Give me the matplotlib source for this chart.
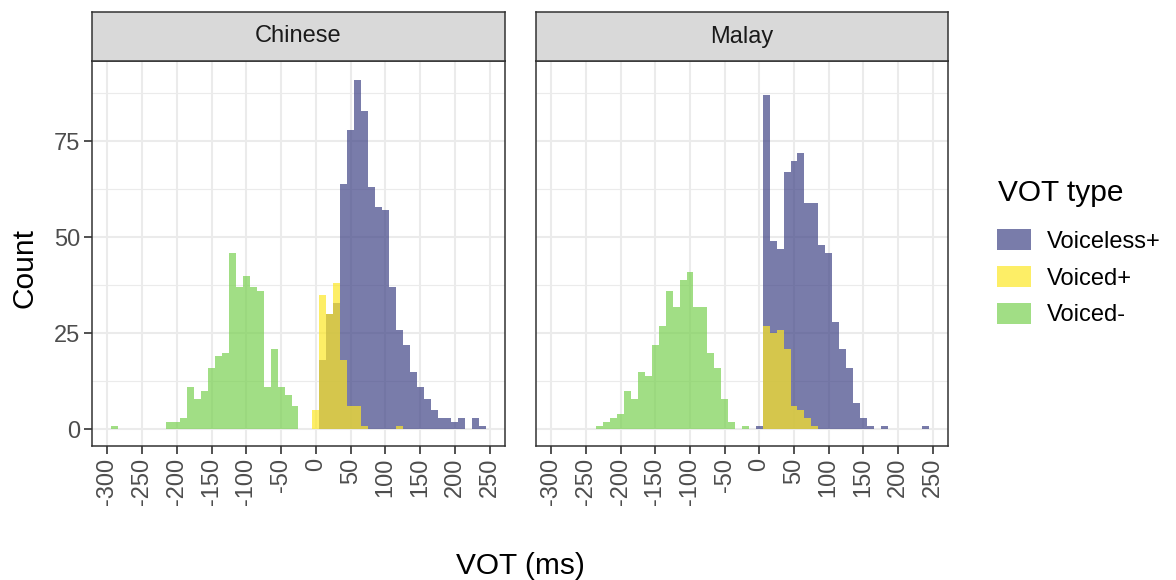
import matplotlib as mpl
import matplotlib.pyplot as plt
from matplotlib.patches import Patch

mpl.rcParams.update({
    "font.family": ["Liberation Sans", "DejaVu Sans"],
    "axes.linewidth": 1.1,
    "axes.edgecolor": "#333333",
})

# ---- data: histogram counts, bin centres in ms (binwidth 10) ----
chinese_voiceless_bins = [10, 20, 30, 40, 50, 60, 70, 80, 90, 100, 110, 120,
                          130, 140, 150, 160, 170, 180, 190, 200, 210, 220, 230, 240]
chinese_voiceless_counts = [18, 30, 33, 64, 78, 91, 83, 63, 58, 57, 37, 26,
                            22, 15, 11, 8, 5, 3, 3, 2, 3, 0, 3, 1]

chinese_voiced_bins = [0, 10, 20, 30, 40, 50, 60, 70, 120]
chinese_voiced_counts = [5, 35, 30, 38, 18, 6, 6, 1, 1]

chinese_prevoiced_bins = [-290, -210, -200, -190, -180, -170, -160, -150, -140, -130,
                          -120, -110, -100, -90, -80, -70, -60, -50, -40, -30]
chinese_prevoiced_counts = [1, 2, 2, 3, 11, 8, 10, 16, 19, 20,
                            46, 37, 40, 37, 36, 11, 21, 11, 9, 6]

malay_voiceless_bins = [0, 10, 20, 30, 40, 50, 60, 70, 80, 90, 100, 110,
                        120, 130, 140, 150, 160, 180, 240]
malay_voiceless_counts = [1, 87, 49, 47, 67, 70, 72, 59, 59, 48, 46, 28,
                          21, 16, 7, 3, 1, 1, 1]

malay_voiced_bins = [10, 20, 30, 40, 50, 60, 70, 80]
malay_voiced_counts = [27, 25, 26, 21, 6, 5, 3, 1]

malay_prevoiced_bins = [-230, -220, -210, -200, -190, -180, -170, -160, -150, -140,
                        -130, -120, -110, -100, -90, -80, -70, -60, -50, -40, -20]
malay_prevoiced_counts = [1, 2, 3, 4, 10, 8, 15, 14, 22, 27,
                          36, 32, 39, 41, 32, 32, 20, 16, 8, 2, 1]

vot_types = ["Voiceless+", "Voiced+", "Voiced-"]
vot_colors = ["#414487", "#FDE725", "#7AD151"]
x_breaks = list(range(-300, 251, 50))
y_breaks = [0, 25, 50, 75]
y_minor = [12.5, 37.5, 62.5, 87.5]

W, H = 1176, 580
fig = plt.figure(figsize=(W / 100, H / 100), dpi=100)


def px_rect(x0, y0, x1, y1):
    return [x0 / W, 1 - y1 / H, (x1 - x0) / W, (y1 - y0) / H]


def draw_panel(rect, strip_rect, name, series, show_y):
    ax = fig.add_axes(rect)
    ax.set_facecolor("white")
    for xb in x_breaks:
        ax.axvline(xb, color="#EBEBEB", lw=1.5, zorder=0)
    for yb in y_breaks:
        ax.axhline(yb, color="#EBEBEB", lw=1.5, zorder=0)
    for yb in y_minor:
        ax.axhline(yb, color="#EBEBEB", lw=0.8, zorder=0)

    for (bins, counts), color in zip(series, vot_colors):
        ax.bar(bins, counts, width=10, color=color, alpha=0.7,
               linewidth=0, zorder=2)

    ax.set_xlim(-322, 272)
    ax.set_ylim(-4.3, 95.9)
    ax.set_xticks(x_breaks)
    ax.set_xticklabels([str(v) for v in x_breaks], rotation=90)
    ax.tick_params(axis="both", length=5.5, width=1.2, color="#333333",
                   labelsize=17, labelcolor="#4D4D4D", pad=3)
    if show_y:
        ax.set_yticks(y_breaks)
        ax.set_yticklabels([str(v) for v in y_breaks])
    else:
        ax.set_yticks([])
    for sp in ax.spines.values():
        sp.set_zorder(5)

    sx = fig.add_axes(strip_rect)
    sx.set_facecolor("#D9D9D9")
    sx.set_xticks([])
    sx.set_yticks([])
    sx.text(0.5, 0.5, name, ha="center", va="center", fontsize=17,
            color="#1A1A1A", transform=sx.transAxes)
    return ax


draw_panel(px_rect(92, 61, 505, 446), px_rect(92, 12, 505, 61), "Chinese",
           [(chinese_voiceless_bins, chinese_voiceless_counts),
            (chinese_voiced_bins, chinese_voiced_counts),
            (chinese_prevoiced_bins, chinese_prevoiced_counts)], True)
draw_panel(px_rect(536, 61, 948, 446), px_rect(536, 12, 948, 61), "Malay",
           [(malay_voiceless_bins, malay_voiceless_counts),
            (malay_voiced_bins, malay_voiced_counts),
            (malay_prevoiced_bins, malay_prevoiced_counts)], False)

fig.text(25 / W, 1 - 268 / H, "Count", rotation=90, ha="center", va="center",
         fontsize=21.5)
fig.text(520 / W, 1 - 566 / H, "VOT (ms)", ha="center", va="center",
         fontsize=21.5)

# legend title drawn separately so the gap to the keys can be matched
fig.text(998 / W, 1 - 193 / H, "VOT type", ha="left", va="center",
         fontsize=21.5)
handles = [Patch(facecolor=c, alpha=0.7, edgecolor="none") for c in vot_colors]
fig.legend(handles=handles, labels=vot_types,
           loc="upper left", bbox_to_anchor=(997 / W, 1 - 229 / H),
           frameon=False, fontsize=17,
           handlelength=1.44, handleheight=1.0, handletextpad=0.68,
           labelspacing=0.56, borderpad=0, borderaxespad=0)

fig.savefig("out.png", dpi=100)
